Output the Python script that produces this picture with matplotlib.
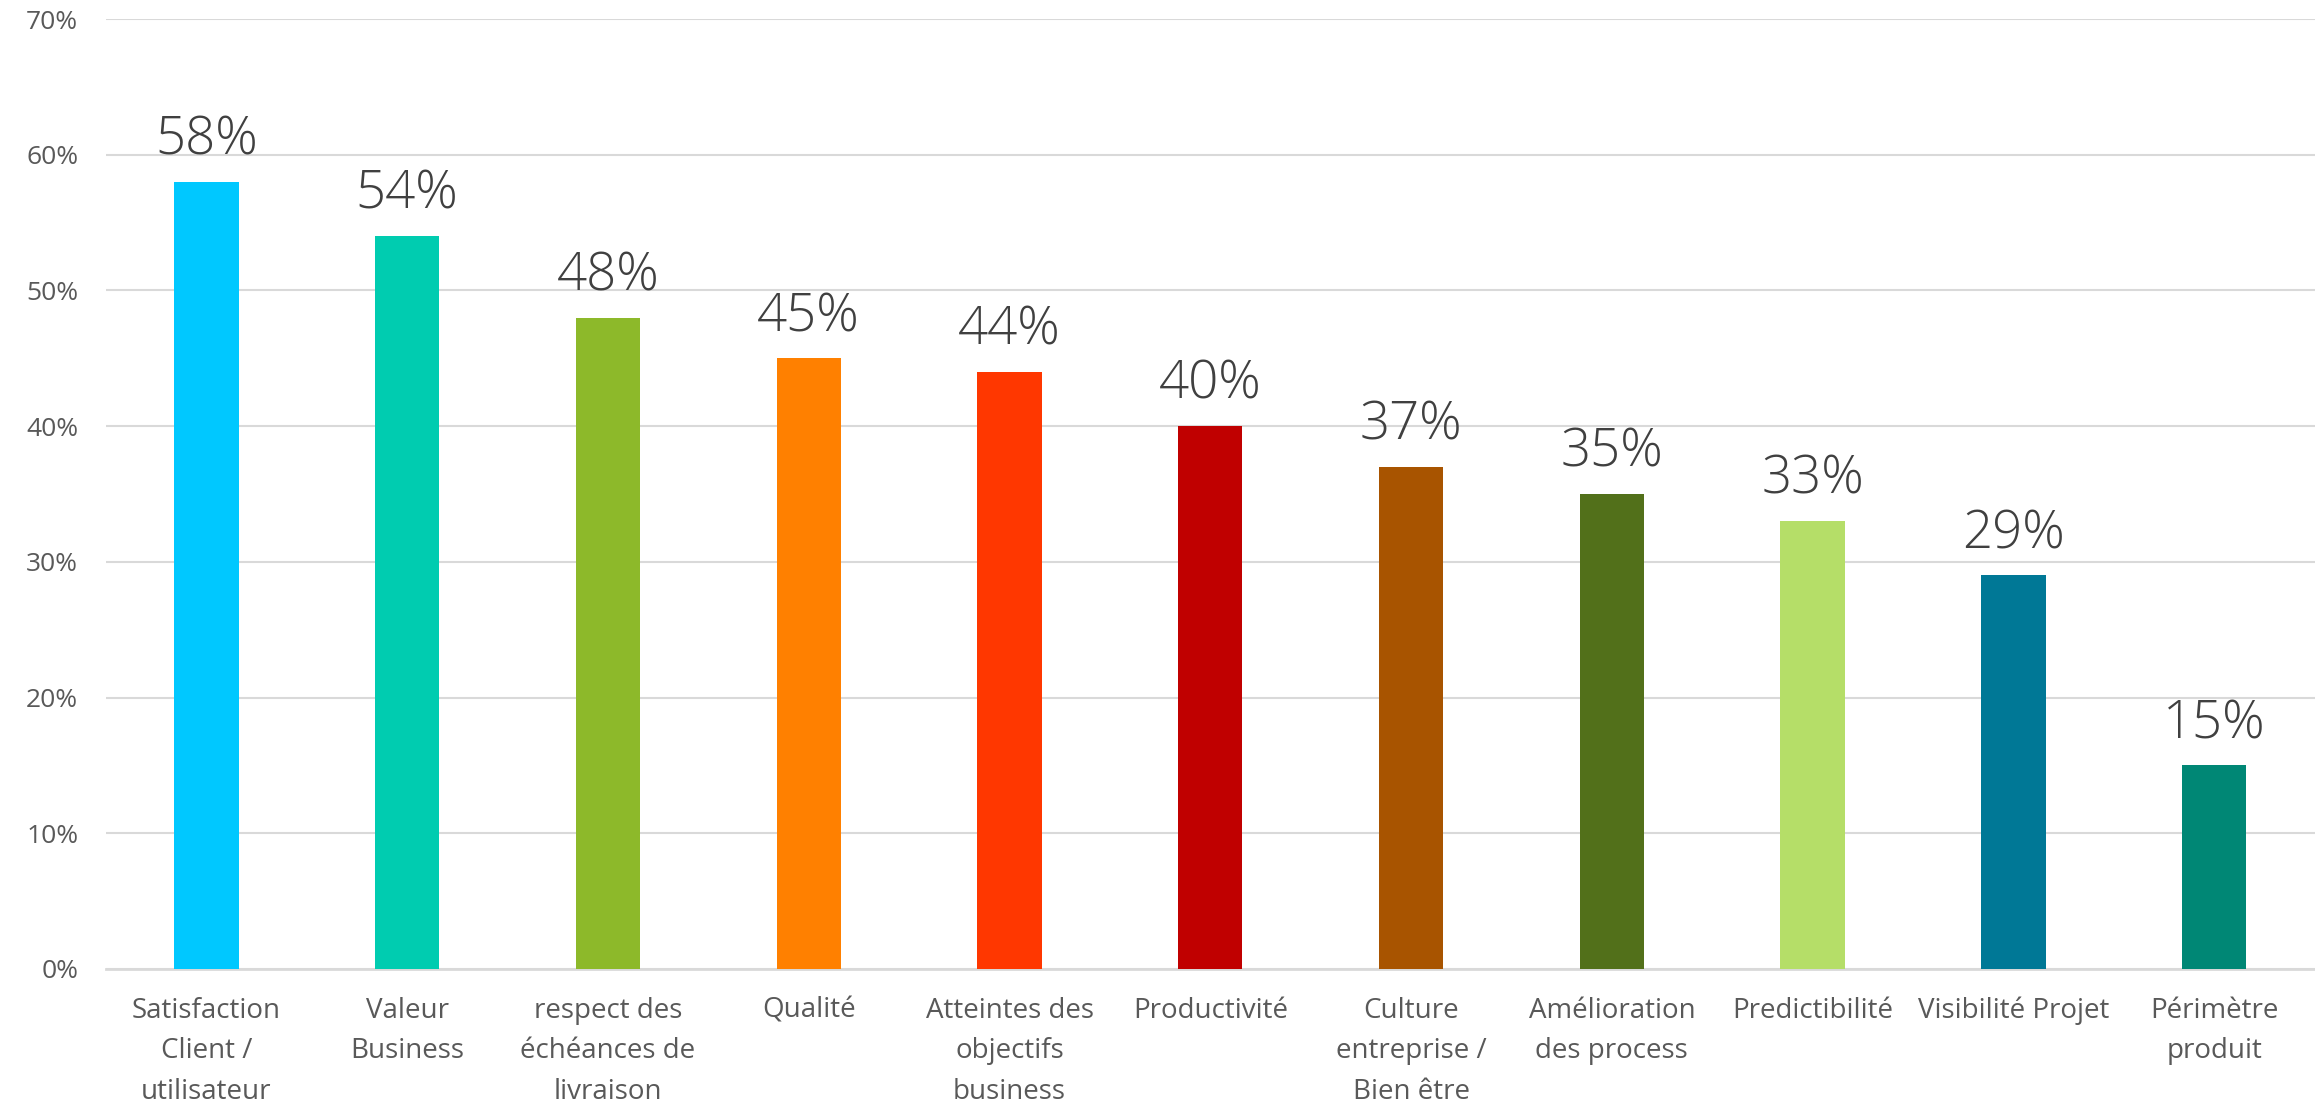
import matplotlib.pyplot as plt
import numpy as np
from matplotlib.ticker import PercentFormatter

categories = ['Satisfaction\nClient /\nutilisateur', 'Valeur\nBusiness', 'respect des\néchéances de\nlivraison',
              'Qualité', 'Atteintes des\nobjectifs\nbusiness', 'Productivité', 'Culture\nentreprise /\nBien être',
              'Amélioration\ndes process', 'Predictibilité', 'Visibilité Projet', 'Périmètre\nproduit']
values = [58, 54, 48, 45, 44, 40, 37, 35, 33, 29, 15]
colors = ['#00C8FF', '#00CCB0', '#8DB92A', '#FF8000', '#FF3700', '#C00000',
          '#A85400', '#52701A', '#B5DE68', '#007896', '#008775']

fig = plt.figure(figsize=(23.15, 11.05), dpi=100)
ax = fig.add_axes([0.0458, 0.1231, 0.954, 0.8597])

x = np.arange(len(values))
bars = ax.bar(x, values, width=0.32, color=colors, zorder=3)

for b, v in zip(bars, values):
    ax.text(b.get_x() + b.get_width()/2, v + 2, f'{v}%', ha='center', va='baseline',
            fontsize=38, color='#404040', family='Open Sans', fontweight='light')

ax.set_ylim(0, 70)
ax.set_xlim(-0.5, len(values) - 0.5)
ax.set_yticks(range(0, 71, 10))
ax.yaxis.set_major_formatter(PercentFormatter(decimals=0))
ax.set_xticks(x)
ax.set_xticklabels(categories, fontsize=20, color='#595959', family='Open Sans', linespacing=1.6)
for lbl in ax.get_yticklabels():
    lbl.set_fontsize(19)
    lbl.set_color('#595959')
    lbl.set_family('Open Sans')

ax.grid(axis='y', color='#D9D9D9', linewidth=1.5, zorder=0)
for s in ['top', 'right', 'left']:
    ax.spines[s].set_visible(False)
ax.spines['bottom'].set_color('#D9D9D9')
ax.spines['bottom'].set_linewidth(2)
ax.tick_params(axis='both', length=0)
ax.tick_params(axis='x', pad=20)
ax.tick_params(axis='y', pad=20)

fig.savefig('out.png', dpi=100)
